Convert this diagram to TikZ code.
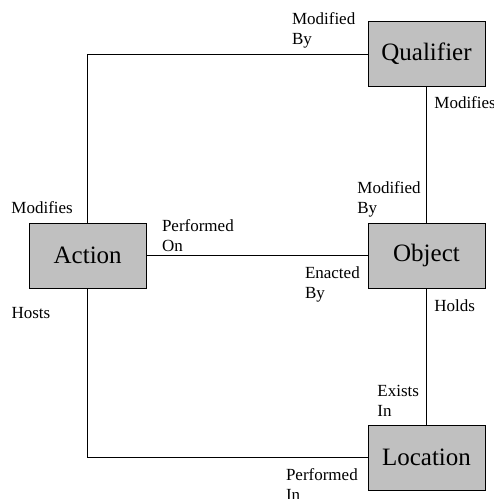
\documentclass[tikz,border=0pt]{standalone}
\usepackage{fontspec}
\setmainfont{Liberation Serif}
\usetikzlibrary{positioning}
\definecolor{boxgray}{RGB}{192,192,192}

\begin{document}
\begin{tikzpicture}
[-, line width=0.8pt, node distance=136pt,
entity/.style={draw, fill=boxgray, minimum width=117pt, minimum height=65pt, inner sep=0pt, font=\fontsize{25}{30}\selectfont},
role/.style={inner sep=0pt, align=left, font=\fontsize{17}{20}\selectfont}
]
  \useasboundingbox (0,0) rectangle (494pt,-499pt);

  \node[entity] (qual) at (426.5pt,-54pt) {Qualifier};
  \node[entity] (obj)  [below=of qual]     {Object};
  \node[entity] (loc)  [below=of obj]      {Location};
  \node[entity] (act)  [left=221pt of obj] {Action};

  \draw (act.north) |- (qual.west)
        node[role, pos=0, anchor=north east, xshift=-14.5pt, yshift=22pt] (mod1) {Modifies}
        node[role, pos=1, anchor=north west, xshift=-76pt, yshift=42pt] (modby1) {Modified\\By};
  \draw (qual.south) -- (obj.north)
        node[role, pos=0, anchor=north west, xshift=7.5pt, yshift=-9pt] (mod2) {Modifies}
        node[role, pos=1, anchor=north west, xshift=-69.5pt, yshift=42pt] (modby2) {Modified\\By};
  \draw (act.east) -- (obj.west)
        node[role, pos=0, anchor=north west, xshift=15pt, yshift=36.5pt] (perfon) {Performed\\On}
        node[role, pos=1, anchor=north west, xshift=-63pt, yshift=-10.5pt] (enact) {Enacted\\By};
  \draw (act.south) |- (loc.west)
        node[role, pos=0, anchor=north west, xshift=-76.5pt, yshift=-18pt] (hosts) {Hosts}
        node[role, pos=1, anchor=north west, xshift=-82pt, yshift=-11pt] (perfin) {Performed\\In};
  \draw (obj.south) -- (loc.north)
        node[role, pos=0, anchor=north west, xshift=7.5pt, yshift=-11pt] (holds) {Holds}
        node[role, pos=1, anchor=north west, xshift=-49.5pt, yshift=40pt] (exists) {Exists\\In};
\end{tikzpicture}
\end{document}
